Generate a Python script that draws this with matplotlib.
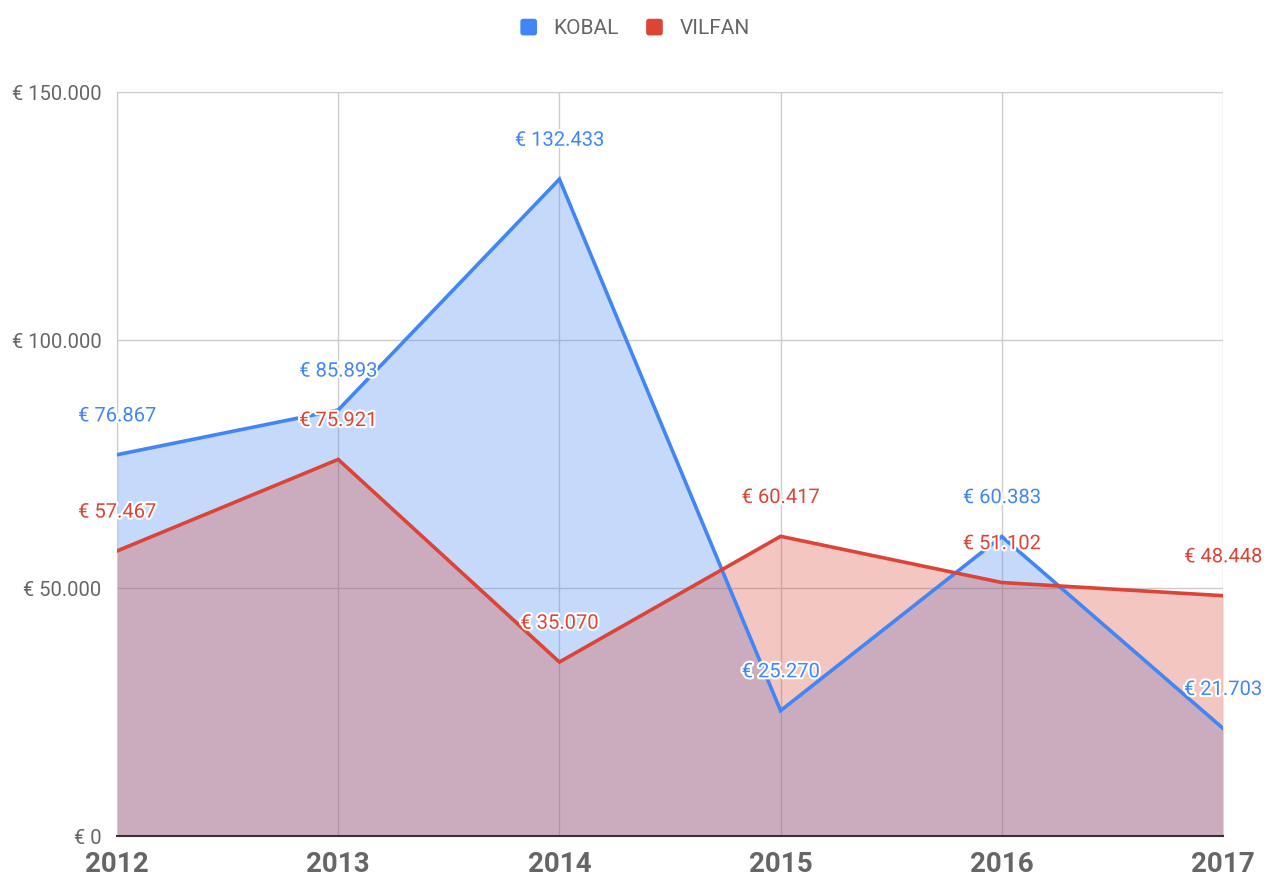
import matplotlib
matplotlib.use("Agg")
import matplotlib.pyplot as plt
import matplotlib.patheffects as pe
from matplotlib.ticker import FuncFormatter
from matplotlib.patches import FancyBboxPatch
from matplotlib.legend_handler import HandlerBase

plt.rcParams['font.family'] = ['Roboto', 'DejaVu Sans']

years = [2012, 2013, 2014, 2015, 2016, 2017]
kobal = [76867, 85893, 132433, 25270, 60383, 21703]
vilfan = [57467, 75921, 35070, 60417, 51102, 48448]
series_names = ["KOBAL", "VILFAN"]
colors = ["#4285F4", "#DB4437"]


def euro(v, pos=None):
    # thousands separator is a dot
    return "€ " + f"{int(round(v)):,}".replace(",", ".")


class RoundSquare(HandlerBase):
    def create_artists(self, legend, orig_handle, xdescent, ydescent, width, height, fontsize, trans):
        s = 12
        p = FancyBboxPatch((-xdescent + (width - s) / 2, -ydescent + (height - s) / 2), s, s,
                           boxstyle="round,pad=0,rounding_size=2",
                           facecolor=orig_handle.get_color(), edgecolor="none", transform=trans)
        return [p]


fig = plt.figure(figsize=(12.68, 8.77), dpi=100)
ax = fig.add_axes([117 / 1268, 1 - 836 / 877, (1223 - 117) / 1268, (836 - 92) / 877])

x = list(range(len(years)))
for vals, c in zip([kobal, vilfan], colors):
    ax.fill_between(x, 0, vals, color=c, alpha=0.3, linewidth=0, zorder=2)
lines = []
for vals, c in zip([kobal, vilfan], colors):
    ln, = ax.plot(x, vals, color=c, linewidth=2.6, zorder=3, solid_joinstyle="miter")
    lines.append(ln)

# data labels above each point
for vals, c in zip([kobal, vilfan], colors):
    for xi, v in zip(x, vals):
        ax.annotate(euro(v), (xi, v), xytext=(0, 28), textcoords="offset points",
                    ha="center", va="center", fontsize=14.5, color=c, zorder=5,
                    annotation_clip=False,
                    path_effects=[pe.withStroke(linewidth=3, foreground="white")])

ax.set_xlim(0, len(years) - 1)
ax.set_ylim(0, 150000)
ax.set_yticks([0, 50000, 100000, 150000])
ax.yaxis.set_major_formatter(FuncFormatter(euro))
ax.set_xticks(x)
ax.set_xticklabels([str(y) for y in years])

ax.grid(True, color="#cccccc", linewidth=1, zorder=1)
ax.set_axisbelow(True)
for side in ["top", "right"]:
    ax.spines[side].set_visible(False)
ax.spines["left"].set_color("#cccccc")
ax.spines["bottom"].set_color("#333333")
ax.spines["bottom"].set_linewidth(1.5)
ax.spines["bottom"].set_zorder(4)

ax.tick_params(axis="both", length=0)
ax.tick_params(axis="y", labelsize=14.5, labelcolor="#666666", pad=11)
ax.tick_params(axis="x", labelsize=20, labelcolor="#666666", pad=11)
for lbl in ax.get_xticklabels():
    lbl.set_fontweight("bold")

leg = fig.legend(handles=lines, labels=series_names, loc="center",
                 bbox_to_anchor=(0.5, 1 - 28 / 877), ncol=2,
                 handler_map={ln: RoundSquare() for ln in lines},
                 frameon=False, fontsize=15, handlelength=1.0, handleheight=1.0,
                 columnspacing=1.2, handletextpad=0.7)
for t in leg.get_texts():
    t.set_color("#666666")

fig.savefig("out.png", dpi=100)
